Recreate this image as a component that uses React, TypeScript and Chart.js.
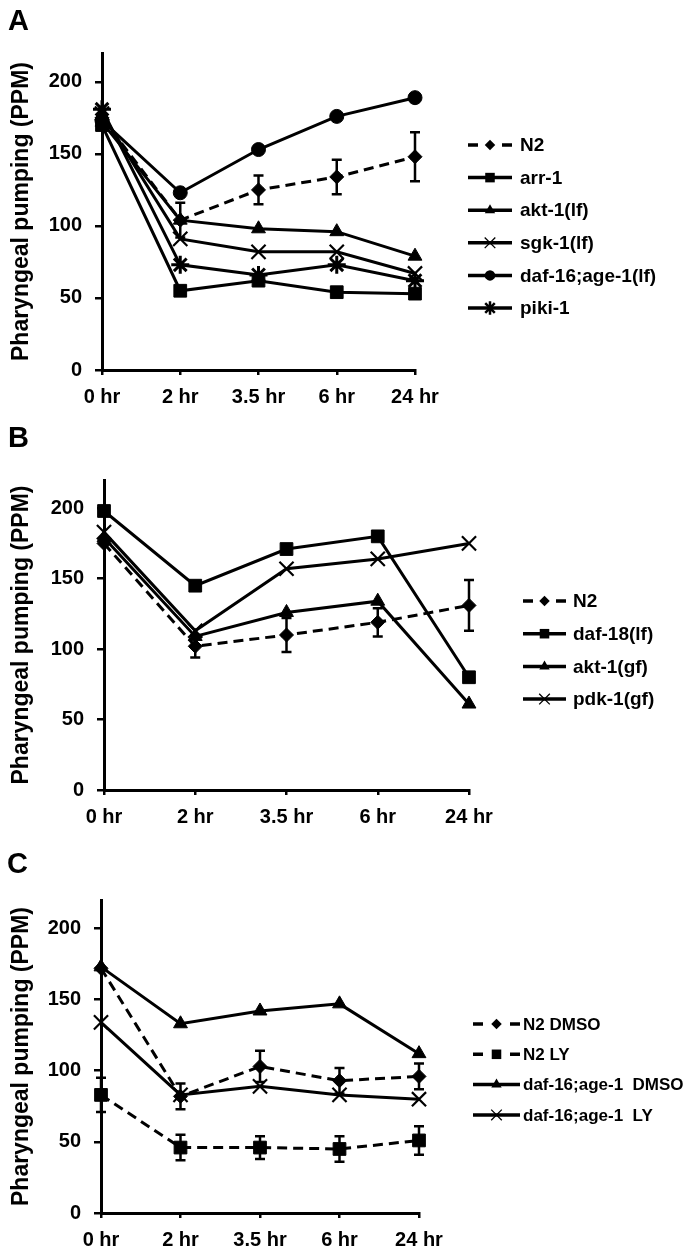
import React, { useEffect, useRef } from 'react';
import { Chart, registerables } from 'chart.js';

Chart.register(...registerables);

// ---------- shared ----------
const categories = ['0 hr', '2 hr', '3.5 hr', '6 hr', '24 hr'];
const yAxisTitle = 'Pharyngeal pumping (PPM)';
const yMax = 220;
const yStep = 50;

// ---------- panel A ----------
const aLabels = ['N2', 'arr-1', 'akt-1(lf)', 'sgk-1(lf)', 'daf-16;age-1(lf)', 'piki-1'];
const aN2 = [175, 104, 125, 134, 148];
const aN2Err = [0, 12, 10, 12, 17];
const aArr1 = [170, 55, 62, 54, 53];
const aAkt1lf = [172, 104, 98, 96, 79];
const aSgk1lf = [178, 91, 82, 82, 67];
const aDaf16Age1 = [173, 123, 153, 176, 189];
const aPiki1 = [181, 73, 66, 73, 62];

// ---------- panel B ----------
const bLabels = ['N2', 'daf-18(lf)', 'akt-1(gf)', 'pdk-1(gf)'];
const bN2 = [175, 102, 110, 119, 131];
const bN2Err = [0, 8, 12, 10, 18];
const bDaf18lf = [198, 145, 171, 180, 80];
const bAkt1gf = [179, 109, 126, 134, 61];
const bPdk1gf = [183, 113, 157, 164, 175];

// ---------- panel C ----------
const cLabels = ['N2 DMSO', 'N2 LY', 'daf-16;age-1  DMSO', 'daf-16;age-1  LY'];
const cN2Dmso = [172, 82, 103, 93, 96];
const cN2DmsoErr = [0, 9, 11, 9, 9];
const cN2Ly = [83, 46, 46, 45, 51];
const cN2LyErr = [12, 9, 8, 9, 10];
const cDafDmso = [173, 133, 142, 147, 112];
const cDafLy = [134, 83, 89, 83, 80];

const FONT = '"Liberation Sans", Arial, Helvetica, sans-serif';

type Marker = 'rectRot' | 'rect' | 'triangle' | 'crossRot' | 'circle' | 'star';

const markerSize: Record<Marker, number> = {
  rectRot: 7,
  rect: 9,
  triangle: 8,
  crossRot: 10,
  circle: 7,
  star: 9,
};

interface SeriesDef {
  label: string;
  data: number[];
  err?: number[];
  marker: Marker;
  dashed: boolean;
}

interface PanelDef {
  letter: string;
  canvasTop: number;
  canvasHeight: number;
  left: number;
  right: number;
  top: number;
  bottom: number;
  legend: { x0: number; x1: number; textX: number; y0: number; step: number; fontSize: number };
  series: SeriesDef[];
}

const panels: PanelDef[] = [
  {
    letter: 'A',
    canvasTop: 0,
    canvasHeight: 415,
    left: 102,
    right: 415,
    top: 53,
    bottom: 370,
    legend: { x0: 468, x1: 512, textX: 520, y0: 145, step: 32.6, fontSize: 19 },
    series: [
      { label: aLabels[0], data: aN2, err: aN2Err, marker: 'rectRot', dashed: true },
      { label: aLabels[1], data: aArr1, marker: 'rect', dashed: false },
      { label: aLabels[2], data: aAkt1lf, marker: 'triangle', dashed: false },
      { label: aLabels[3], data: aSgk1lf, marker: 'crossRot', dashed: false },
      { label: aLabels[4], data: aDaf16Age1, marker: 'circle', dashed: false },
      { label: aLabels[5], data: aPiki1, marker: 'star', dashed: false },
    ],
  },
  {
    letter: 'B',
    canvasTop: 415,
    canvasHeight: 415,
    left: 104,
    right: 469,
    top: 65,
    bottom: 375,
    legend: { x0: 523, x1: 566, textX: 573, y0: 186, step: 32.7, fontSize: 19 },
    series: [
      { label: bLabels[0], data: bN2, err: bN2Err, marker: 'rectRot', dashed: true },
      { label: bLabels[1], data: bDaf18lf, marker: 'rect', dashed: false },
      { label: bLabels[2], data: bAkt1gf, marker: 'triangle', dashed: false },
      { label: bLabels[3], data: bPdk1gf, marker: 'crossRot', dashed: false },
    ],
  },
  {
    letter: 'C',
    canvasTop: 830,
    canvasHeight: 421,
    left: 101,
    right: 419,
    top: 70,
    bottom: 383,
    legend: { x0: 473, x1: 520, textX: 523, y0: 194, step: 30.3, fontSize: 17 },
    series: [
      { label: cLabels[0], data: cN2Dmso, err: cN2DmsoErr, marker: 'rectRot', dashed: true },
      { label: cLabels[1], data: cN2Ly, err: cN2LyErr, marker: 'rect', dashed: true },
      { label: cLabels[2], data: cDafDmso, marker: 'triangle', dashed: false },
      { label: cLabels[3], data: cDafLy, marker: 'crossRot', dashed: false },
    ],
  },
];

function drawMarker(ctx: CanvasRenderingContext2D, m: Marker, x: number, y: number, r: number) {
  ctx.save();
  ctx.fillStyle = '#000';
  ctx.strokeStyle = '#000';
  ctx.setLineDash([]);
  ctx.beginPath();
  if (m === 'rectRot') {
    ctx.moveTo(x, y - r);
    ctx.lineTo(x + r, y);
    ctx.lineTo(x, y + r);
    ctx.lineTo(x - r, y);
    ctx.closePath();
    ctx.fill();
  } else if (m === 'rect') {
    const s = r * Math.SQRT1_2;
    ctx.rect(x - s, y - s, 2 * s, 2 * s);
    ctx.fill();
  } else if (m === 'triangle') {
    for (let k = 0; k < 3; k++) {
      const a = (k * 2 * Math.PI) / 3;
      const px = x + Math.sin(a) * r;
      const py = y - Math.cos(a) * r;
      if (k === 0) ctx.moveTo(px, py);
      else ctx.lineTo(px, py);
    }
    ctx.closePath();
    ctx.fill();
  } else if (m === 'circle') {
    ctx.arc(x, y, r, 0, Math.PI * 2);
    ctx.fill();
  } else if (m === 'crossRot') {
    const s = r * Math.SQRT1_2;
    ctx.lineWidth = 1.3;
    ctx.moveTo(x - s, y - s);
    ctx.lineTo(x + s, y + s);
    ctx.moveTo(x - s, y + s);
    ctx.lineTo(x + s, y - s);
    ctx.stroke();
  } else if (m === 'star') {
    const s = r * Math.SQRT1_2;
    ctx.lineWidth = 2.5;
    ctx.moveTo(x - s, y - s);
    ctx.lineTo(x + s, y + s);
    ctx.moveTo(x - s, y + s);
    ctx.lineTo(x + s, y - s);
    ctx.moveTo(x, y - r);
    ctx.lineTo(x, y + r);
    ctx.stroke();
  }
  ctx.restore();
}

const errorBarPlugin = {
  id: 'errorBars',
  afterDatasetsDraw(chart: any) {
    const ctx: CanvasRenderingContext2D = chart.ctx;
    const yScale = chart.scales.y;
    chart.data.datasets.forEach((ds: any, i: number) => {
      const errs: number[] | undefined = ds.errorBars;
      if (!errs) return;
      const meta = chart.getDatasetMeta(i);
      ctx.save();
      ctx.strokeStyle = '#000';
      ctx.lineWidth = 2.5;
      ctx.setLineDash([]);
      errs.forEach((e, j) => {
        if (!e) return;
        const pt = meta.data[j];
        const v = ds.data[j];
        const x = pt.x;
        const yT = yScale.getPixelForValue(v + e);
        const yB = yScale.getPixelForValue(v - e);
        ctx.beginPath();
        ctx.moveTo(x, yT);
        ctx.lineTo(x, yB);
        ctx.moveTo(x - 5, yT);
        ctx.lineTo(x + 5, yT);
        ctx.moveTo(x - 5, yB);
        ctx.lineTo(x + 5, yB);
        ctx.stroke();
      });
      ctx.restore();
    });
  },
};

const legendPlugin = {
  id: 'sideLegend',
  afterDraw(chart: any, _args: any, opts: any) {
    const ctx: CanvasRenderingContext2D = chart.ctx;
    const { x0, x1, textX, y0, step, fontSize } = opts;
    chart.data.datasets.forEach((ds: any, i: number) => {
      const y = y0 + i * step;
      ctx.save();
      ctx.strokeStyle = '#000';
      ctx.lineWidth = 3.5;
      ctx.beginPath();
      if (ds.legendDashed) {
        ctx.moveTo(x0, y);
        ctx.lineTo(x0 + 10, y);
        ctx.moveTo(x1 - 10, y);
        ctx.lineTo(x1, y);
      } else {
        ctx.moveTo(x0, y);
        ctx.lineTo(x1, y);
      }
      ctx.stroke();
      drawMarker(ctx, ds.legendMarker, (x0 + x1) / 2, y, markerSize[ds.legendMarker as Marker] * 0.75);
      ctx.fillStyle = '#000';
      ctx.font = `bold ${fontSize}px ${FONT}`;
      ctx.textAlign = 'left';
      ctx.textBaseline = 'middle';
      ctx.fillText(ds.label, textX, y + 1);
      ctx.restore();
    });
  },
};

function buildConfig(p: PanelDef): any {
  const tickFont = { family: FONT, size: 20, weight: 'bold' as const };
  return {
    type: 'line',
    data: {
      labels: categories,
      datasets: p.series.map((s) => ({
        label: s.label,
        data: s.data,
        errorBars: s.err,
        legendDashed: s.dashed,
        legendMarker: s.marker,
        borderColor: '#000',
        backgroundColor: '#000',
        borderWidth: 3,
        borderDash: s.dashed ? [10, 6] : [],
        pointStyle: s.marker,
        pointRadius: markerSize[s.marker],
        pointBorderWidth: s.marker === 'crossRot' ? 2.2 : s.marker === 'star' ? 3 : 1,
        pointBackgroundColor: '#000',
        pointBorderColor: '#000',
        tension: 0,
        fill: false,
        clip: false,
      })),
    },
    options: {
      responsive: false,
      animation: false,
      devicePixelRatio: 1,
      events: [],
      layout: {
        padding: { left: 0, top: p.top, right: 689 - p.right, bottom: 0 },
      },
      plugins: {
        legend: { display: false },
        tooltip: { enabled: false },
        title: { display: false },
        sideLegend: p.legend,
      },
      scales: {
        x: {
          type: 'category',
          offset: false,
          grid: {
            display: true,
            drawOnChartArea: false,
            drawTicks: true,
            tickLength: 5,
            color: '#000',
            lineWidth: 2.5,
          },
          border: { display: true, color: '#000', width: 3 },
          ticks: {
            color: '#000',
            font: tickFont,
            padding: 10,
            maxRotation: 0,
            autoSkip: false,
          },
          afterFit: (s: any) => {
            s.height = p.canvasHeight - p.bottom;
          },
        },
        y: {
          type: 'linear',
          min: 0,
          max: yMax,
          afterBuildTicks: (s: any) => {
            s.ticks = s.ticks.filter((t: any) => t.value % yStep === 0 && t.value <= 200);
          },
          grid: {
            display: true,
            drawOnChartArea: false,
            drawTicks: true,
            tickLength: 7,
            color: '#000',
            lineWidth: 2.5,
          },
          border: { display: true, color: '#000', width: 3 },
          ticks: {
            stepSize: yStep,
            color: '#000',
            font: tickFont,
            padding: 13,
          },
          title: {
            display: true,
            text: yAxisTitle,
            color: '#000',
            font: { family: FONT, size: 23, weight: 'bold' },
            padding: { top: 8, bottom: 0 },
          },
          afterFit: (s: any) => {
            s.width = p.left;
          },
        },
      },
    },
    plugins: [errorBarPlugin, legendPlugin],
  };
}

function Panel({ p }: { p: PanelDef }) {
  const ref = useRef<HTMLCanvasElement | null>(null);
  useEffect(() => {
    if (!ref.current) return;
    const chart = new Chart(ref.current, buildConfig(p));
    return () => chart.destroy();
  }, [p]);
  return (
    <div style={{ position: 'absolute', left: 0, top: p.canvasTop, width: 689, height: p.canvasHeight }}>
      <canvas ref={ref} width={689} height={p.canvasHeight} style={{ display: 'block', width: 689, height: p.canvasHeight }} />
    </div>
  );
}

const letterPos = [
  { left: 8, top: 6 },
  { left: 8, top: 423 },
  { left: 7, top: 849 },
];

export default function App() {
  return (
    <div style={{ position: 'absolute', left: 0, top: 0, width: 689, height: 1251, background: '#fff', overflow: 'hidden' }}>
      {panels.map((p) => (
        <Panel key={p.letter} p={p} />
      ))}
      {panels.map((p, i) => (
        <div
          key={'L' + p.letter}
          style={{
            position: 'absolute',
            left: letterPos[i].left,
            top: letterPos[i].top,
            fontFamily: FONT,
            fontWeight: 'bold',
            fontSize: 29,
            lineHeight: '29px',
            color: '#000',
          }}
        >
          {p.letter}
        </div>
      ))}
    </div>
  );
}
